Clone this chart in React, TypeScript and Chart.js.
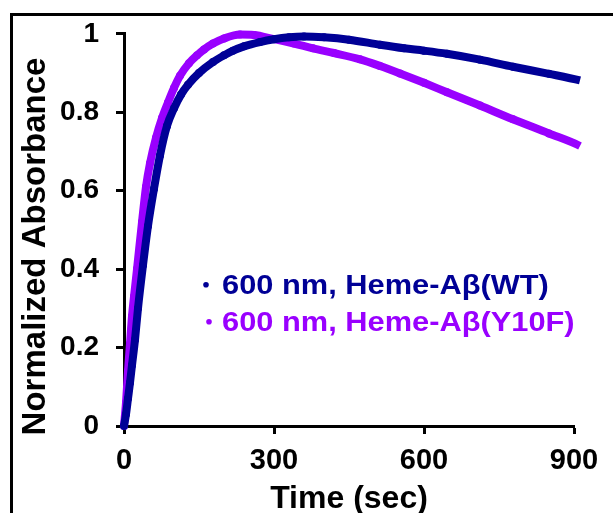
import React, { useEffect, useRef } from "react";
import { Chart, registerables } from "chart.js";

Chart.register(...registerables);

// ---- data ----
const seriesNames = ["600 nm, Heme-Aβ(WT)", "600 nm, Heme-Aβ(Y10F)"];
const seriesColors = ["#000096", "#9900FF"];

const wtTime = [0, 4, 8, 12, 16, 22, 28, 38, 48, 60, 72, 86, 100, 114, 128, 150, 178, 200, 218, 240, 272, 300, 330, 360, 400, 450, 512, 560, 600, 646, 712, 778, 850, 912, 920];
const wtAbs = [0.0, 0.03, 0.07, 0.11, 0.155, 0.22, 0.3, 0.41, 0.51, 0.605, 0.69, 0.765, 0.81, 0.845, 0.87, 0.9, 0.928, 0.945, 0.957, 0.968, 0.979, 0.986, 0.991, 0.993, 0.991, 0.985, 0.972, 0.963, 0.957, 0.949, 0.934, 0.916, 0.898, 0.881, 0.878];

const y10fTime = [0, 4, 8, 12, 16, 20, 26, 36, 44, 52, 64, 76, 88, 100, 112, 130, 146, 160, 178, 200, 232, 260, 298, 340, 378, 420, 472, 512, 552, 600, 646, 712, 778, 850, 912, 920];
const y10fAbs = [0.0, 0.06, 0.14, 0.21, 0.28, 0.33, 0.4, 0.52, 0.61, 0.67, 0.735, 0.785, 0.825, 0.862, 0.893, 0.925, 0.945, 0.96, 0.975, 0.988, 0.998, 0.997, 0.987, 0.975, 0.963, 0.951, 0.935, 0.918, 0.899, 0.875, 0.851, 0.817, 0.782, 0.746, 0.714, 0.708];

const xTicks = [0, 300, 600, 900];
const yTicks = [0, 0.2, 0.4, 0.6, 0.8, 1];

const xTitle = "Time (sec)";
const yTitle = "Normalized Absorbance";

const FONT = '"Liberation Sans", Arial, Helvetica, sans-serif';

const framePlugin = {
  id: "frame",
  beforeDraw(chart: any) {
    const ctx = chart.ctx;
    ctx.save();
    ctx.strokeStyle = "#000";
    ctx.lineWidth = 3;
    ctx.beginPath();
    ctx.moveTo(11.5, chart.height);
    ctx.lineTo(11.5, 14.5);
    ctx.lineTo(chart.width, 14.5);
    ctx.stroke();
    ctx.restore();
  },
};

const yTitlePlugin = {
  id: "yTitle",
  afterDraw(chart: any) {
    const ctx = chart.ctx;
    ctx.save();
    ctx.font = `bold 33px ${FONT}`;
    ctx.fillStyle = "#000";
    ctx.textAlign = "center";
    ctx.textBaseline = "alphabetic";
    ctx.translate(45, 246.5);
    ctx.rotate(-Math.PI / 2);
    ctx.fillText(yTitle, 0, 0);
    ctx.restore();
  },
};

const legendPlugin = {
  id: "inlineLegend",
  afterDraw(chart: any) {
    const ctx = chart.ctx;
    const area = chart.chartArea;
    ctx.save();
    ctx.font = `bold 28px ${FONT}`;
    ctx.textAlign = "left";
    ctx.textBaseline = "alphabetic";
    seriesNames.forEach((name, i) => {
      const baseY = area.top + 260 + i * 37;
      const left = area.left + 98;
      ctx.fillStyle = seriesColors[i];
      ctx.beginPath();
      ctx.arc(left - 16 + i * 3, baseY - 9, 2.8, 0, Math.PI * 2);
      ctx.fill();
      ctx.save();
      ctx.translate(left, baseY);
      ctx.scale(1.1, 1);
      ctx.fillText(name, 0, 0);
      ctx.restore();
    });
    ctx.restore();
  },
};

export default function App() {
  const ref = useRef<HTMLCanvasElement | null>(null);

  useEffect(() => {
    if (!ref.current) return;
    const mk = (t: number[], v: number[]) => t.map((x, i) => ({ x, y: v[i] }));
    const common = {
      showLine: true,
      borderWidth: 8,
      pointRadius: 4,
      pointBorderWidth: 0,
      cubicInterpolationMode: "monotone",
      clip: false,
    };
    const chart = new Chart(ref.current, {
      type: "scatter",
      data: {
        datasets: [
          {
            ...common,
            label: seriesNames[0],
            data: mk(wtTime, wtAbs),
            borderColor: seriesColors[0],
            backgroundColor: seriesColors[0],
          } as any,
          {
            ...common,
            label: seriesNames[1],
            data: mk(y10fTime, y10fAbs),
            borderColor: seriesColors[1],
            backgroundColor: seriesColors[1],
          } as any,
        ],
      },
      options: {
        animation: false,
        responsive: false,
        maintainAspectRatio: false,
        layout: { padding: { top: 32, right: 39, bottom: 0, left: 0 } },
        plugins: {
          legend: { display: false },
          tooltip: { enabled: false },
        },
        scales: {
          x: {
            type: "linear",
            min: 0,
            max: 900,
            afterBuildTicks: (s: any) => {
              s.ticks = xTicks.map((v) => ({ value: v }));
            },
            afterFit: (s: any) => {
              s.height = 87;
            },
            ticks: {
              font: { family: FONT, size: 29, weight: "bold" },
              color: "#000",
              padding: 10,
              maxRotation: 0,
              callback: (v: any) => String(Number(v)),
            },
            grid: {
              drawOnChartArea: false,
              drawTicks: true,
              tickLength: 8,
              tickWidth: 3,
              tickColor: "#000",
            },
            border: { display: true, color: "#000", width: 3 },
            title: {
              display: true,
              text: xTitle,
              color: "#000",
              font: { family: FONT, size: 32, weight: "bold", lineHeight: 0.875 },
              padding: 0,
            },
          },
          y: {
            type: "linear",
            min: 0,
            max: 1,
            afterBuildTicks: (s: any) => {
              s.ticks = yTicks.map((v) => ({ value: v }));
            },
            afterFit: (s: any) => {
              s.width = 124;
            },
            ticks: {
              font: { family: FONT, size: 28, weight: "bold" },
              color: "#000",
              padding: 17,
              callback: (v: any) => String(Number(v)),
            },
            grid: {
              drawOnChartArea: false,
              drawTicks: true,
              tickLength: 8,
              tickWidth: 3,
              tickColor: "#000",
            },
            border: { display: true, color: "#000", width: 3 },
          },
        },
      } as any,
      plugins: [framePlugin, yTitlePlugin, legendPlugin],
    });
    return () => chart.destroy();
  }, []);

  return (
    <div style={{ position: "fixed", left: 0, top: 0, width: 613, height: 513, overflow: "hidden", background: "#fff" }}>
      <canvas ref={ref} width={613} height={513} style={{ width: 613, height: 513, display: "block" }} />
    </div>
  );
}
